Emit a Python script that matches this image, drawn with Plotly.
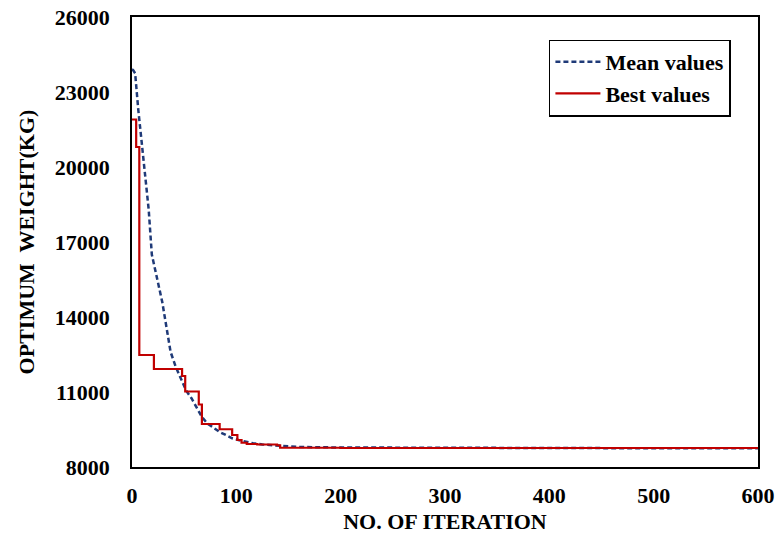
import plotly.graph_objects as go

# Mean values curve (iteration, weight)
mean_iter = [0, 1, 3, 6, 11, 16, 19, 25, 29, 33, 37, 42, 47, 52, 57, 62, 67, 72, 77, 84,
             90, 96, 102, 110, 116, 125, 140, 160, 200, 300, 400, 500, 600]
mean_vals = [23900, 23880, 23750, 22300, 20300, 18300, 16500, 15350, 14600, 13600, 12600,
             12000, 11550, 11050, 10750, 10400, 10000, 9750, 9600, 9400, 9280, 9150, 9080,
             9000, 8950, 8900, 8850, 8800, 8780, 8760, 8760, 8750, 8750]

# Best values (step curve)
best_iter = [0, 4, 7, 21, 48, 51, 64, 67, 84, 96, 101, 105, 110, 120, 139, 142, 200, 600]
best_vals = [21900, 20800, 12480, 11920, 11640, 11020, 10500, 9720, 9510, 9280, 9080,
             8970, 8920, 8900, 8870, 8770, 8760, 8750]

y_ticks = [8000, 11000, 14000, 17000, 20000, 23000, 26000]
x_ticks = [0, 100, 200, 300, 400, 500, 600]

font_family = "Liberation Serif"
fs = 22

fig = go.Figure()
fig.add_trace(go.Scatter(
    x=mean_iter, y=mean_vals, mode="lines", name="Mean values",
    line=dict(color="#1F3A78", width=2.5, dash="5px,3px"), legendgroup="a"))
fig.add_trace(go.Scatter(
    x=best_iter, y=best_vals, mode="lines", name="Best values",
    line=dict(color="#C00000", width=2.2, shape="hv"), legendgroup="b"))

fig.update_layout(
    width=779, height=541,
    margin=dict(l=132, r=21, t=17, b=74),
    plot_bgcolor="white", paper_bgcolor="white",
    font=dict(family=font_family, size=fs, color="black"),
    showlegend=True,
    legend=dict(x=0.666, y=0.95, xanchor="left", yanchor="top",
                bordercolor="black", borderwidth=1.5, bgcolor="white",
                font=dict(family=font_family, size=fs, color="black", weight="bold"),
                tracegroupgap=0, itemwidth=45),
    xaxis=dict(range=[0, 600], tickvals=x_ticks, tickformat="d", showgrid=False,
               zeroline=False, automargin=False,
               showline=True, mirror=True, linecolor="black", linewidth=1.5,
               ticks="", ticklabelstandoff=8,
               tickfont=dict(family=font_family, size=fs, weight="bold"),
               title=dict(text="<b>NO. OF ITERATION</b>", standoff=6,
                          font=dict(family=font_family, size=fs))),
    yaxis=dict(range=[8000, 26000], tickvals=y_ticks, tickformat="d", showgrid=False,
               zeroline=False, automargin=False,
               showline=True, mirror=True, linecolor="black", linewidth=1.5,
               ticks="", ticklabelstandoff=16,
               tickfont=dict(family=font_family, size=fs, weight="bold"),
               title=dict(text="<b>OPTIMUM  WEIGHT(KG)</b>", standoff=14,
                          font=dict(family=font_family, size=fs))),
)

fig.write_html("out.html")
